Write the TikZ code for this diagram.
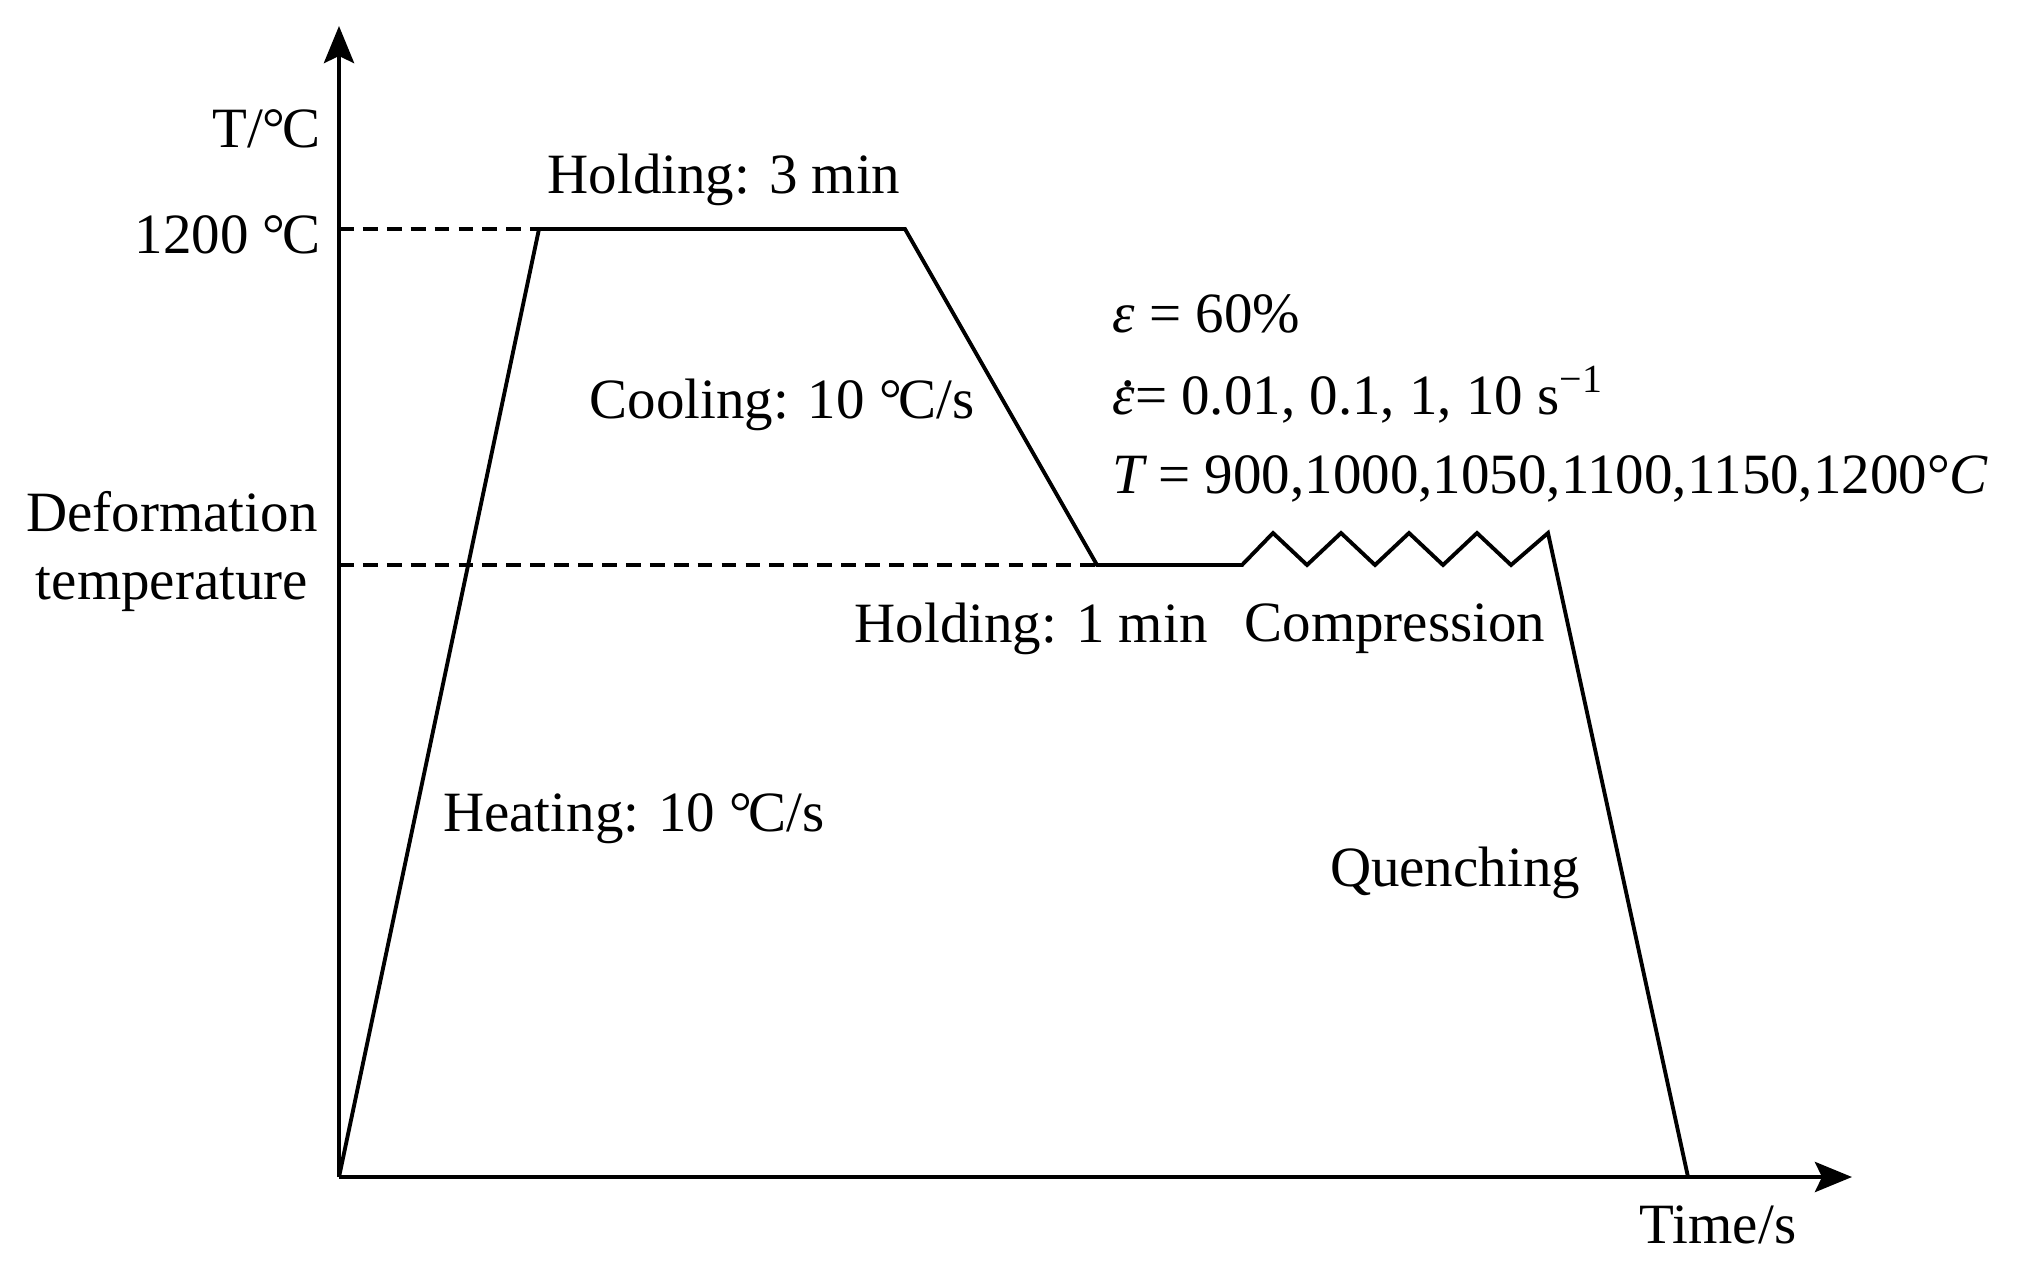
\documentclass[tikz,border=0pt]{standalone}
\usepackage{fontspec}
\setmainfont{Liberation Serif}
\usetikzlibrary{arrows.meta}
\newcommand{\dC}{°\kern-0.06emC}
\newcommand{\epsdot}{{\itshape\makebox[0pt][l]{\kern0.17em\raisebox{0.5em}{.}}ε}}
\begin{document}
\begin{tikzpicture}[x=0.01cm,y=-0.01cm,
  axis/.style={line width=1.3pt,-{Stealth[length=0.37cm,width=0.3cm,inset=0.07cm]}},
  curve/.style={line width=1.1pt,line join=miter},
  guide/.style={line width=1.1pt,dash pattern=on 4.2pt off 2.6pt},
  lbl/.style={inner sep=0pt,font=\fontsize{16.2}{19.5}\selectfont}]
\useasboundingbox (0,0) rectangle (2028,1273);
\coordinate (O) at (339,1177);
\coordinate (ytop) at (339,26);
\coordinate (xend) at (1852,1177);
\coordinate (p1) at (539,229);
\coordinate (p2) at (905,229);
\coordinate (p3) at (1097,565);
\coordinate (p4) at (1242,565);
\coordinate (p5) at (1548,533);
\coordinate (p6) at (1688,1177);
\coordinate (y1200) at (339,229);
\coordinate (ydef) at (339,565);
% axes
\draw[axis] (O) -- (ytop);
\draw[axis] (O) -- (xend);
% guides
\draw[guide] (y1200) -- (p1);
\draw[guide] (ydef) -- (p3);
% process curve
\draw[curve] (O) -- (p1) -- (p2) -- (p3) -- (p4)
  -- (1273,533) -- (1307,565) -- (1341,533) -- (1375,565) -- (1409,533)
  -- (1443,565) -- (1477,533) -- (1511,565) -- (p5) -- (p6);
% labels
\node[lbl,anchor=east] (tlab) at (321,129) {T/\dC};
\node[lbl,anchor=east] (l1200) at (321,235) {1200 \dC};
\node[lbl] (def1) at (172,512) {Deformation};
\node[lbl] (def2) at (172,590) {temperature};
\node[lbl] (hold3) at (724,180) {Holding: 3 min};
\node[lbl] (cool) at (782,405) {Cooling: 10 \dC/s};
\node[lbl] (heat) at (634,819) {Heating: 10 \dC/s};
\node[lbl] (hold1) at (1031,629) {Holding: 1 min};
\node[lbl] (comp) at (1395,629) {Compression};
\node[lbl] (quench) at (1455,873) {Quenching};
\node[lbl] (time) at (1718,1225) {Time/s};
\node[lbl,anchor=west] (eps) at (1112,314) {{\itshape ε} = 60\%};
\node[lbl,anchor=west] (epsdot) at (1112,395) {\epsdot= 0.01, 0.1, 1, 10 s\textsuperscript{−1}};
\node[lbl,anchor=west] (tset) at (1112,479) {{\itshape T} = 900,1000,1050,1100,1150,1200°{\itshape C}};
\end{tikzpicture}
\end{document}
